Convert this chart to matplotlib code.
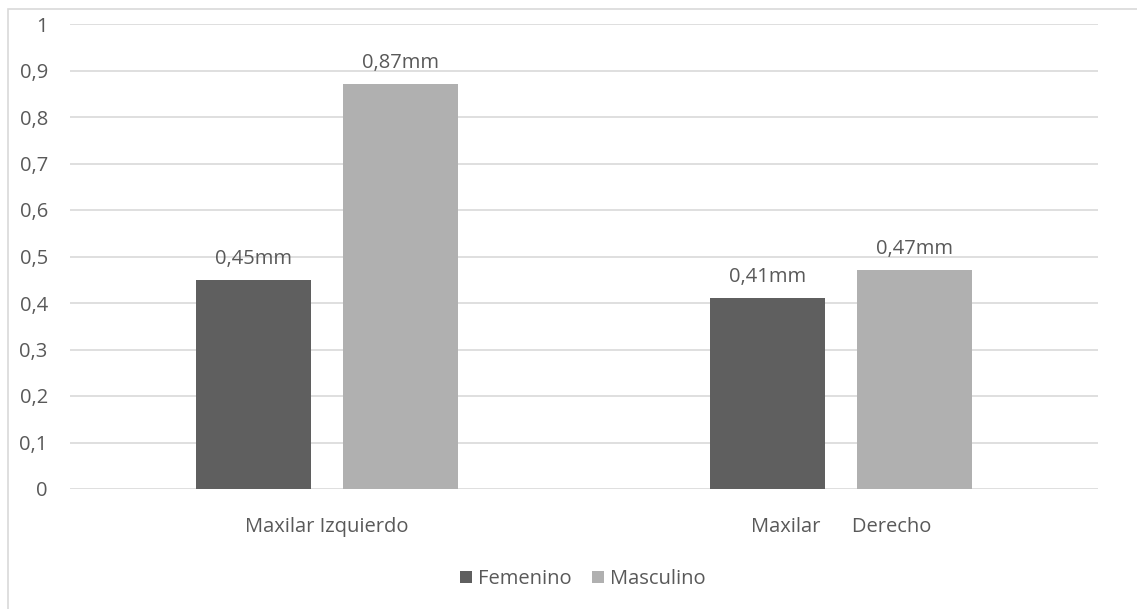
import numpy as np
import matplotlib.pyplot as plt
from matplotlib.patches import Rectangle

categories = ["Maxilar Izquierdo", "Maxilar      Derecho"]
femenino = [0.45, 0.41]
masculino = [0.87, 0.47]
series_names = ["Femenino", "Masculino"]
yticks = [0, 0.1, 0.2, 0.3, 0.4, 0.5, 0.6, 0.7, 0.8, 0.9, 1]

plt.rcParams['font.family'] = ['Open Sans', 'DejaVu Sans']
text_color = '#595959'
grid_color = '#d9d9d9'
fs = 14.5

fig = plt.figure(figsize=(11.37, 6.09), dpi=100)
# chart frame
fig.patches.append(Rectangle((8 / 1137, -0.1), 1.2, 1 - 9 / 609 + 0.1,
                             transform=fig.transFigure, fill=False,
                             edgecolor=grid_color, linewidth=1.2))

ax = fig.add_axes([70 / 1137, 1 - 489 / 609, 1028 / 1137, 465 / 609])
x = np.arange(len(categories))
width = 0.224
offset = 0.143
b1 = ax.bar(x - offset, femenino, width, color='#5f5f5f', label=series_names[0], zorder=3)
b2 = ax.bar(x + offset, masculino, width, color='#b0b0b0', label=series_names[1], zorder=3)

for bars, vals in ((b1, femenino), (b2, masculino)):
    for bar, v in zip(bars, vals):
        ax.annotate(f"{v:.2f}".replace('.', ',') + "mm",
                    (bar.get_x() + bar.get_width() / 2, v),
                    xytext=(0, 8), textcoords='offset points',
                    ha='center', va='bottom', fontsize=fs, color=text_color)

ax.set_xlim(-0.5, 1.5)
ax.set_ylim(0, 1)
ax.set_yticks(yticks)
ax.set_yticklabels([f"{t:g}".replace('.', ',') for t in yticks])
ax.set_xticks(x)
ax.set_xticklabels(categories)
ax.tick_params(axis='both', length=0, labelsize=fs, colors=text_color)
ax.tick_params(axis='y', pad=16)
ax.tick_params(axis='x', pad=20)
ax.grid(axis='y', color=grid_color, linewidth=1.2, zorder=0)
for s in ax.spines.values():
    s.set_visible(False)

fig.legend(loc='center', bbox_to_anchor=(583 / 1137, 1 - 579 / 609), ncol=2,
           frameon=False, fontsize=fs, labelcolor=text_color,
           handlelength=0.6, handleheight=0.6, handletextpad=0.3, columnspacing=1.0)

fig.savefig('out.png', dpi=100)
